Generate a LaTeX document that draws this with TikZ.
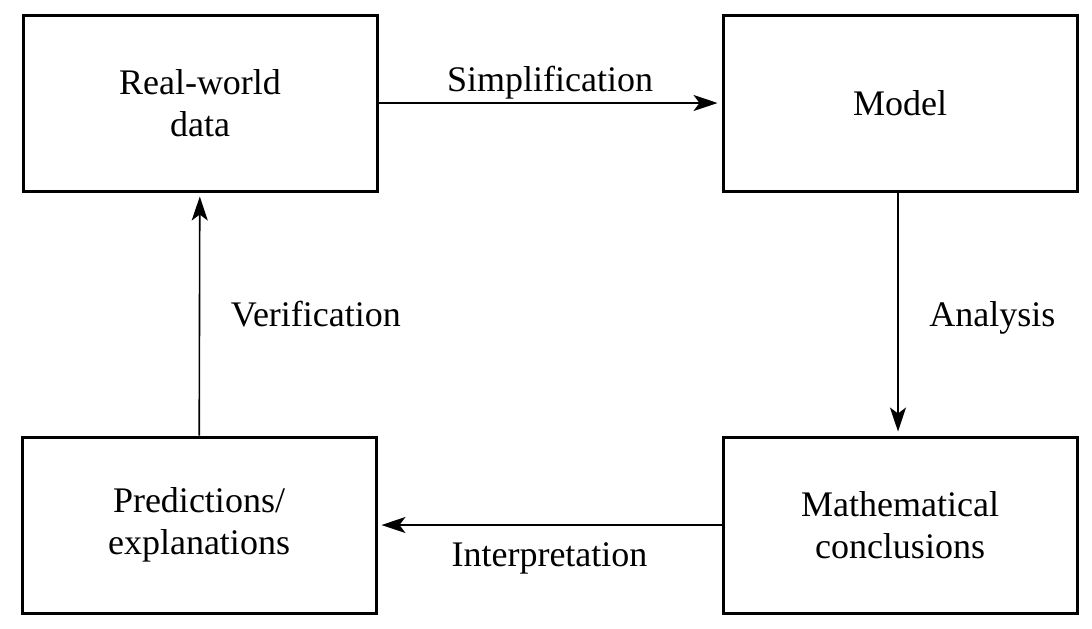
\documentclass[tikz,border=0pt]{standalone}
\usepackage{fontspec}
\setmainfont{Liberation Serif}
\usepackage{tikz}
\usetikzlibrary{arrows.meta}

\tikzset{
	stagebox/.style={draw, line width=1.5pt, minimum width=177pt, minimum height=88pt, align=center, font=\fontsize{18}{21}\selectfont},
	flow/.style={-{Stealth[length=12pt,width=8pt,inset=3pt]}, line width=0.8pt, shorten >=2pt},
	flowlabel/.style={font=\fontsize{18}{21}\selectfont}
}

\begin{document}
\begin{tikzpicture}[x=0.5pt,y=-0.5pt]
	\useasboundingbox (0,0) rectangle (1092,628);
	% Draw boxes
	\node[stagebox] (data) at (200,103) {Real-world\\data};
	\node[stagebox] (model) at (900,103) {Model};
	\node[stagebox] (concl) at (900,525) {Mathematical\\conclusions};
	\node[stagebox] (pred) at (199,525) {Predictions/\\explanations};

	% Draw arrows
	\draw[flow] (data) -- node[flowlabel, above=-2pt] {Simplification} (model);
	\draw[flow] (model.south -| 898,0) -- node[flowlabel, right=12pt, yshift=-2pt] {Analysis} (concl.north -| 898,0);
	\draw[flow] (concl) -- node[flowlabel, below=5pt] {Interpretation} (pred);
	\draw[flow] (pred) -- node[flowlabel, right=12pt] {Verification} (data);

\end{tikzpicture}
\end{document}
